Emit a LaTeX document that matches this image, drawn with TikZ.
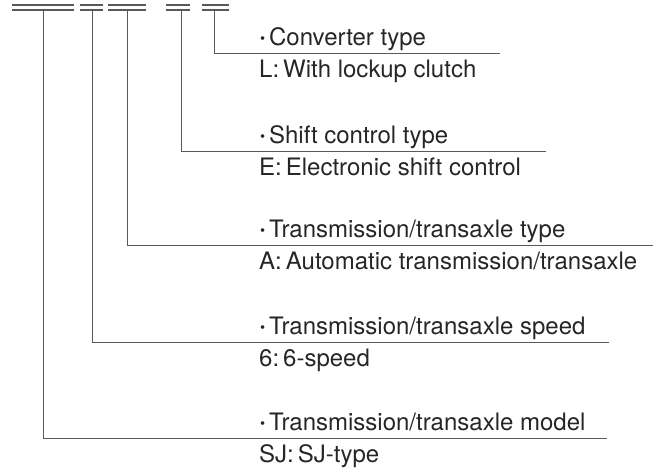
\documentclass[tikz,border=0pt]{standalone}
\usepackage{fontspec}
\setmainfont{TeX Gyre Heros}
\newcommand{\keydot}{\raisebox{0.06em}{\scalebox{0.6}{•}}\hspace{0.16em}}
\begin{document}
\begin{tikzpicture}[x=1pt,y=-1pt,
  codeline/.style={draw=black!65, line width=1.1pt},
  leader/.style={draw=black!65, line width=1pt},
  keytext/.style={anchor=base west, inner sep=0pt, font=\fontsize{24}{26}\selectfont, text=black!85}]
\useasboundingbox (0,0) rectangle (654,467);
% code characters
\draw[codeline] (12,5) -- (74,5) (12,10) -- (74,10);
\draw[codeline] (80,5) -- (103,5) (80,10) -- (103,10);
\draw[codeline] (108,5) -- (146,5) (108,10) -- (146,10);
\draw[codeline] (166,5) -- (190,5) (166,10) -- (190,10);
\draw[codeline] (202,5) -- (229,5) (202,10) -- (229,10);
% leader corners
\coordinate (model top) at (43,10);
\coordinate (model corner) at (43,438);
\coordinate (model end) at (607,438);
\coordinate (speed top) at (92,10);
\coordinate (speed corner) at (92,342);
\coordinate (speed end) at (609,342);
\coordinate (type top) at (127,10);
\coordinate (type corner) at (127,245);
\coordinate (type end) at (653,245);
\coordinate (shift top) at (181,10);
\coordinate (shift corner) at (181,151);
\coordinate (shift end) at (546,151);
\coordinate (conv top) at (214,10);
\coordinate (conv corner) at (214,53);
\coordinate (conv end) at (500,53);
\draw[leader] (model top) -- (model corner) -- (model end);
\draw[leader] (speed top) -- (speed corner) -- (speed end);
\draw[leader] (type top) -- (type corner) -- (type end);
\draw[leader] (shift top) -- (shift corner) -- (shift end);
\draw[leader] (conv top) -- (conv corner) -- (conv end);
% texts
\node[keytext] (conv head) at (260,45) {\keydot Converter type};
\node[keytext] (conv key) at (259,77) {L:\,With lockup clutch};
\node[keytext] (shift head) at (260,143) {\keydot Shift control type};
\node[keytext] (shift key) at (259,175) {E:\,Electronic shift control};
\node[keytext] (type head) at (260,237) {\keydot Transmission/transaxle type};
\node[keytext] (type key) at (259,269) {A:\,Automatic transmission/transaxle};
\node[keytext] (speed head) at (260,334) {\keydot Transmission/transaxle speed};
\node[keytext] (speed key) at (259,366) {6:\,6-speed};
\node[keytext] (model head) at (260,430) {\keydot Transmission/transaxle model};
\node[keytext] (model key) at (259,462) {SJ:\,SJ-type};
\end{tikzpicture}
\end{document}
